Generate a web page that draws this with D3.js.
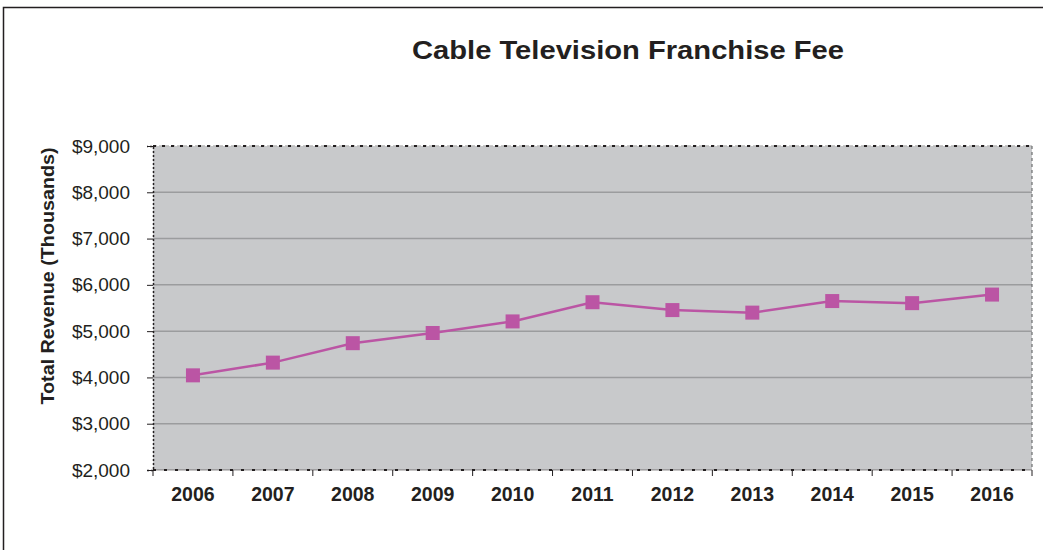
<!DOCTYPE html>
<html>
<head>
<meta charset="utf-8">
<script src="https://cdn.jsdelivr.net/npm/d3@7"></script>
<style>
  body { margin: 0; background: #fff; }
  svg { display: block; font-family: "Liberation Sans", Arial, sans-serif; }
</style>
</head>
<body>
<svg id="chart" width="1043" height="550"></svg>
<script>
// Annual cable television franchise fee revenue, in thousands of dollars
const years = ["2006", "2007", "2008", "2009", "2010", "2011", "2012", "2013", "2014", "2015", "2016"];
const revenue = [4045, 4320, 4740, 4960, 5210, 5625, 5455, 5400, 5650, 5605, 5790];
const yTicks = [2000, 3000, 4000, 5000, 6000, 7000, 8000, 9000];

const svg = d3.select("#chart");
const plotL = 153, plotR = 1032, plotT = 146, plotB = 470;

const x = d3.scaleBand().domain(years).range([plotL, plotR]).padding(0);
const y = d3.scaleLinear().domain([2000, 9000]).range([plotB, plotT]);

// outer frame
svg.append("rect")
  .attr("x", 3.5).attr("y", 7.5).attr("width", 1060).attr("height", 560)
  .attr("fill", "none").attr("stroke", "#231f20").attr("stroke-width", 1.5);

// plot area
svg.append("rect")
  .attr("x", plotL).attr("y", plotT).attr("width", plotR - plotL).attr("height", plotB - plotT)
  .attr("fill", "#c8c9cb");

// horizontal gridlines
svg.append("g").selectAll("line")
  .data(yTicks.filter(d => d > 2000 && d < 9000))
  .join("line")
  .attr("x1", plotL).attr("x2", plotR)
  .attr("y1", d => y(d)).attr("y2", d => y(d))
  .attr("stroke", "#9b9c9e").attr("stroke-width", 1.5);

// plot border: dashed top/right, dotted left/bottom
svg.append("line").attr("x1", plotL).attr("x2", plotR).attr("y1", plotT).attr("y2", plotT)
  .attr("stroke", "#bbbbbb").attr("stroke-width", 1.5).attr("stroke-dasharray", "4,2");
svg.append("line").attr("x1", plotL).attr("x2", plotR).attr("y1", plotT).attr("y2", plotT)
  .attr("stroke", "#231f20").attr("stroke-width", 2).attr("stroke-dasharray", "3,6");
svg.append("line").attr("x1", plotR).attr("x2", plotR).attr("y1", plotT).attr("y2", plotB)
  .attr("stroke", "#6d6e70").attr("stroke-width", 1.2).attr("stroke-dasharray", "3,3");

// y axis
const yAxis = d3.axisLeft(y).tickValues(yTicks)
  .tickFormat(d => "$" + d3.format(",")(d))
  .tickSize(6).tickPadding(17);
const yg = svg.append("g").attr("transform", `translate(${plotL},0)`).call(yAxis);
yg.select(".domain").attr("stroke", "#231f20").attr("stroke-width", 1.5).attr("stroke-dasharray", "2,2");
yg.selectAll(".tick line").attr("stroke", "#231f20").attr("stroke-width", 1);
yg.selectAll(".tick text").attr("fill", "#231f20")
  .style("font-size", "19px").style("font-family", "'Liberation Sans', Arial, sans-serif");

// x axis with ticks at category boundaries
const xg = svg.append("g").attr("transform", `translate(0,${plotB})`);
xg.append("line").attr("x1", plotL).attr("x2", plotR).attr("y1", 0).attr("y2", 0)
  .attr("stroke", "#231f20").attr("stroke-width", 2).attr("stroke-dasharray", "3,8");
xg.append("line").attr("x1", plotL).attr("x2", plotR).attr("y1", 0).attr("y2", 0)
  .attr("stroke", "#231f20").attr("stroke-width", 1).attr("stroke-opacity", 0.5);
xg.selectAll("line.tk")
  .data(years.map(d => x(d)).concat([plotR]))
  .join("line").attr("class", "tk")
  .attr("x1", d => d).attr("x2", d => d).attr("y1", 0).attr("y2", 6)
  .attr("stroke", "#231f20").attr("stroke-width", 1);
xg.selectAll("text")
  .data(years)
  .join("text")
  .attr("x", d => x(d) + x.bandwidth() / 2)
  .attr("y", 31)
  .attr("text-anchor", "middle")
  .attr("fill", "#231f20")
  .style("font-size", "19.5px").style("font-weight", "bold")
  .text(d => d);

// revenue line
const pts = years.map((d, i) => [x(d) + x.bandwidth() / 2, y(revenue[i])]);
svg.append("path")
  .attr("d", d3.line()(pts))
  .attr("fill", "none").attr("stroke", "#bb55a4").attr("stroke-width", 2.5);

svg.append("g").selectAll("rect")
  .data(years)
  .join("rect")
  .attr("x", (d, i) => x(d) + x.bandwidth() / 2 - 7)
  .attr("y", (d, i) => y(revenue[i]) - 7)
  .attr("width", 14).attr("height", 14)
  .attr("fill", "#bb55a4");

// title
svg.append("text")
  .attr("x", 628).attr("y", 59)
  .attr("text-anchor", "middle")
  .attr("fill", "#231f20")
  .attr("textLength", 432).attr("lengthAdjust", "spacingAndGlyphs")
  .style("font-size", "26px").style("font-weight", "bold")
  .text("Cable Television Franchise Fee");

// y axis title
svg.append("text")
  .attr("transform", "translate(54,276) rotate(-90)")
  .attr("text-anchor", "middle")
  .attr("fill", "#231f20")
  .attr("textLength", 257).attr("lengthAdjust", "spacingAndGlyphs")
  .style("font-size", "18px").style("font-weight", "bold")
  .text("Total Revenue (Thousands)");
</script>
</body>
</html>
